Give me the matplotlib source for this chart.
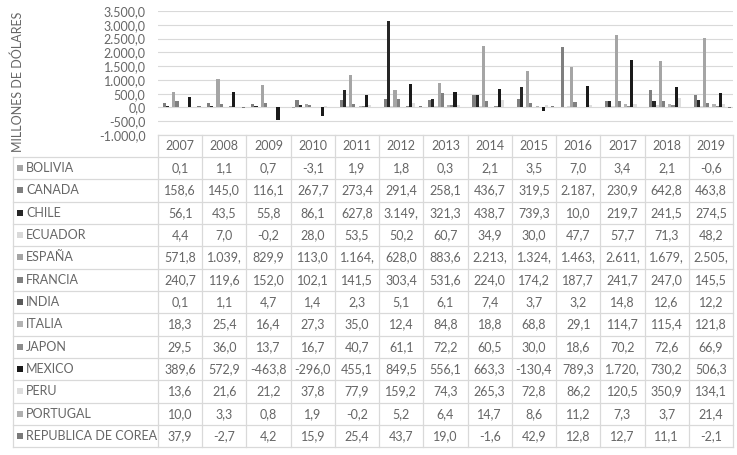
import matplotlib
matplotlib.use("Agg")
import matplotlib.pyplot as plt
import numpy as np

# Data (millones de dólares)
years = ["2007", "2008", "2009", "2010", "2011", "2012", "2013",
         "2014", "2015", "2016", "2017", "2018", "2019"]

countries = ["BOLIVIA", "CANADA", "CHILE", "ECUADOR", "ESPAÑA", "FRANCIA", "INDIA",
             "ITALIA", "JAPON", "MEXICO", "PERU", "PORTUGAL", "REPUBLICA DE COREA"]

bolivia = [0.1, 1.1, 0.7, -3.1, 1.9, 1.8, 0.3, 2.1, 3.5, 7.0, 3.4, 2.1, -0.6]
canada = [158.6, 145.0, 116.1, 267.7, 273.4, 291.4, 258.1, 436.7, 319.5, 2187.4, 230.9, 642.8, 463.8]
chile = [56.1, 43.5, 55.8, 86.1, 627.8, 3149.2, 321.3, 438.7, 739.3, 10.0, 219.7, 241.5, 274.5]
ecuador = [4.4, 7.0, -0.2, 28.0, 53.5, 50.2, 60.7, 34.9, 30.0, 47.7, 57.7, 71.3, 48.2]
espana = [571.8, 1039.5, 829.9, 113.0, 1164.3, 628.0, 883.6, 2213.4, 1324.6, 1463.2, 2611.7, 1679.1, 2505.8]
francia = [240.7, 119.6, 152.0, 102.1, 141.5, 303.4, 531.6, 224.0, 174.2, 187.7, 241.7, 247.0, 145.5]
india = [0.1, 1.1, 4.7, 1.4, 2.3, 5.1, 6.1, 7.4, 3.7, 3.2, 14.8, 12.6, 12.2]
italia = [18.3, 25.4, 16.4, 27.3, 35.0, 12.4, 84.8, 18.8, 68.8, 29.1, 114.7, 115.4, 121.8]
japon = [29.5, 36.0, 13.7, 16.7, 40.7, 61.1, 72.2, 60.5, 30.0, 18.6, 70.2, 72.6, 66.9]
mexico = [389.6, 572.9, -463.8, -296.0, 455.1, 849.5, 556.1, 663.3, -130.4, 789.3, 1720.5, 730.2, 506.3]
peru = [13.6, 21.6, 21.2, 37.8, 77.9, 159.2, 74.3, 265.3, 72.8, 86.2, 120.5, 350.9, 134.1]
portugal = [10.0, 3.3, 0.8, 1.9, -0.2, 5.2, 6.4, 14.7, 8.6, 11.2, 7.3, 3.7, 21.4]
corea = [37.9, -2.7, 4.2, 15.9, 25.4, 43.7, 19.0, -1.6, 42.9, 12.8, 12.7, 11.1, -2.1]

series = [bolivia, canada, chile, ecuador, espana, francia, india,
          italia, japon, mexico, peru, portugal, corea]

colors = ["#a6a6a6", "#7f7f7f", "#262626", "#d9d9d9", "#a5a5a5", "#808080", "#595959",
          "#b3b3b3", "#8c8c8c", "#1a1a1a", "#dedede", "#b0b0b0", "#7a7a7a"]

yticks = [-1000, -500, 0, 500, 1000, 1500, 2000, 2500, 3000, 3500]

text_color = "#666666"
grid_color = "#d9d9d9"
fs = 9
plt.rcParams["font.family"] = ["Lato", "DejaVu Sans"]


def es_fmt(v):
    # Spanish number format, 1 decimal: 1.039,5
    s = f"{v:,.1f}"
    return s.replace(",", "X").replace(".", ",").replace("X", ".")


W, H = 737, 455
fig = plt.figure(figsize=(W / 100, H / 100), dpi=100)

# chart area in pixels
x0, x1 = 158, 733
y_top, y_bot = 11, 135
ax = fig.add_axes([x0 / W, 1 - y_bot / H, (x1 - x0) / W, (y_bot - y_top) / H])

n = len(series)
bw = 1 / (n + 1)
x = np.arange(len(years))
for i, (vals, c) in enumerate(zip(series, colors)):
    ax.bar(x + (i - (n - 1) / 2) * bw, vals, width=bw, color=c, zorder=3)

ax.set_xlim(-0.5, len(years) - 0.5)
ax.set_ylim(-1000, 3500)
ax.set_yticks(yticks)
ax.set_yticklabels([es_fmt(v) for v in yticks], color=text_color, fontsize=fs)
ax.set_xticks([])
ax.tick_params(axis="y", length=0, pad=9)
ax.yaxis.grid(True, color=grid_color, linewidth=0.8, zorder=0)
for s in ax.spines.values():
    s.set_visible(False)

fig.text(18 / W, 1 - 82 / H, "MILLONES DE DÓLARES", rotation=90, ha="center", va="center",
         color=text_color, fontsize=fs)

# data table drawn in pixel coordinates
tab = fig.add_axes([0, 0, 1, 1])
tab.set_xlim(0, W)
tab.set_ylim(H, 0)
tab.axis("off")

col_w = (x1 - x0) / len(years)
head_top, head_bot = 135, 157
row_h = 22.33
lab_x0 = 13
tbl_bot = head_bot + row_h * len(countries)
lc = grid_color
lw = 0.9

# header row
tab.plot([x0, x1], [head_top, head_top], color=lc, lw=lw)
for j in range(len(years) + 1):
    xx = x0 + j * col_w
    tab.plot([xx, xx], [head_top, tbl_bot], color=lc, lw=lw)
for j, yr in enumerate(years):
    tab.text(x0 + (j + 0.5) * col_w, (head_top + head_bot) / 2, yr, ha="center", va="center",
             color=text_color, fontsize=fs)

# body rows
tab.plot([lab_x0, lab_x0], [head_bot, tbl_bot], color=lc, lw=lw)
for r in range(len(countries) + 1):
    yy = head_bot + r * row_h
    tab.plot([lab_x0, x1], [yy, yy], color=lc, lw=lw)

for r, (name, vals, c) in enumerate(zip(countries, series, colors)):
    yc = head_bot + (r + 0.5) * row_h
    tab.add_patch(plt.Rectangle((17, yc - 3), 6, 6, color=c, lw=0))
    tab.text(26, yc, name, ha="left", va="center", color=text_color, fontsize=fs)
    for j, v in enumerate(vals):
        tab.text(x0 + (j + 0.5) * col_w, yc, es_fmt(v)[:6], ha="center", va="center",
                 color=text_color, fontsize=fs)

fig.savefig("out.png", dpi=100)
